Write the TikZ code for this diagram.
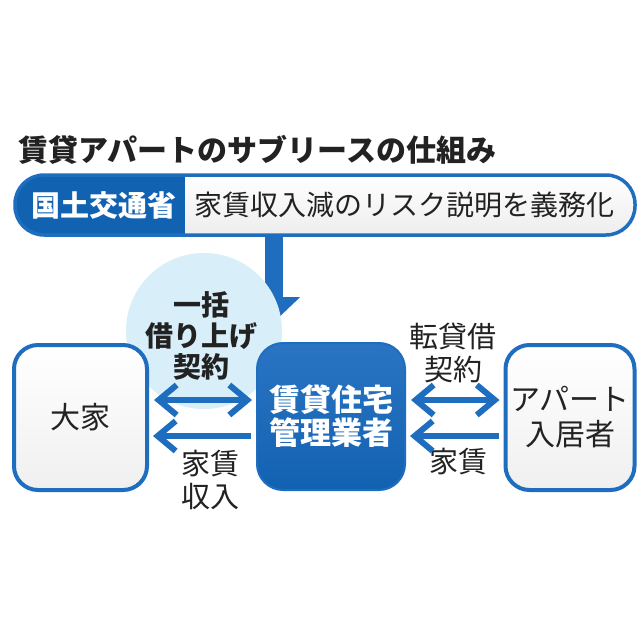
\documentclass[tikz,border=0pt]{standalone}
\usepackage{fontspec}
\setmainfont{Noto Sans CJK JP}
\usetikzlibrary{arrows.meta}
\definecolor{boxblue}{HTML}{1F6DBF}
\definecolor{darkblue}{HTML}{1262B2}
\definecolor{bubbleblue}{HTML}{D8EFFA}
\definecolor{ink}{HTML}{222222}
\begin{document}
\begin{tikzpicture}[x=1pt,y=-1pt,
    side/.style = {draw=boxblue, line width=4pt, rounded corners=24pt, top color=white, bottom color=gray!12, align=center, text=ink, font=\fontsize{30}{35}\selectfont},
    main/.style = {draw=boxblue, line width=2pt, rounded corners=26pt, top color=boxblue!95, bottom color=darkblue, align=center, text=white, font=\bfseries\fontsize{31}{33}\selectfont, minimum width=148pt, minimum height=147pt},
    lab/.style = {align=center, text=ink, font=\fontsize{29}{33}\selectfont},
    link/.style = {draw=boxblue, line width=6pt, shorten <=5pt, shorten >=4pt},
    barb/.tip = {Straight Barb[length=18pt,width=30pt]}]
  \useasboundingbox (0,0) rectangle (640,640);
  \fill[white] (0,0) rectangle (640,640);
  % title and banner
  \node[anchor=west, text=ink, font=\bfseries\fontsize{30}{34}\selectfont] (title) at (15,150) {賃貸アパートのサブリースの仕組み};
  \node[draw=boxblue, line width=3.5pt, rounded corners=29pt, minimum width=620pt, minimum height=60pt, top color=white, bottom color=gray!14,
    path picture={\fill[darkblue, sharp corners] (path picture bounding box.south west) rectangle ([xshift=170pt]path picture bounding box.north west);}] (banner) at (325,205) {};
  \node[text=white, font=\bfseries\fontsize{29}{33}\selectfont] (ministry) at (104,205) {国土交通省};
  \node[text=ink, font=\fontsize{28}{33}\selectfont] (duty) at (404,205) {家賃収入減のリスク説明を義務化};
  \coordinate (drop) at (274,236);
  \coordinate (droptip) at (274,322);
  \draw[boxblue, line width=18pt, -{Triangle[length=25pt,width=51pt]}] (drop) -- (droptip);
  % parties
  \node[circle, fill=bubbleblue, minimum size=156pt] (bubble) at (204,331) {};
  \node[side, minimum width=133pt, minimum height=145pt] (owner) at (80.5,417.5) {大家};
  \node[main] (manager) at (331,416.5) {賃貸住宅\\管理業者};
  \node[side, minimum width=129pt, minimum height=145pt] (tenant) at (570,417.5) {アパート\\入居者};
  \node[lab, font=\bfseries\fontsize{28}{31}\selectfont] (lease) at (201,336) {一括\\借り上げ\\契約};
  \node[lab] (sublease) at (453,353) {転貸借\\契約};
  \node[lab] (income) at (210,480) {家賃\\収入};
  \node[lab] (rent) at (458,462) {家賃};
  % arrows
  \draw[link, barb-barb] ([yshift=17.5pt]owner.east) -- ([yshift=16.5pt]manager.west);
  \draw[link, -barb] ([yshift=-19.5pt]manager.west) -- ([yshift=-18.5pt]owner.east);
  \draw[link, barb-barb] ([yshift=16.5pt]manager.east) -- ([yshift=17.5pt]tenant.west);
  \draw[link, -barb] ([yshift=-18.5pt]tenant.west) -- ([yshift=-19.5pt]manager.east);
\end{tikzpicture}
\end{document}
